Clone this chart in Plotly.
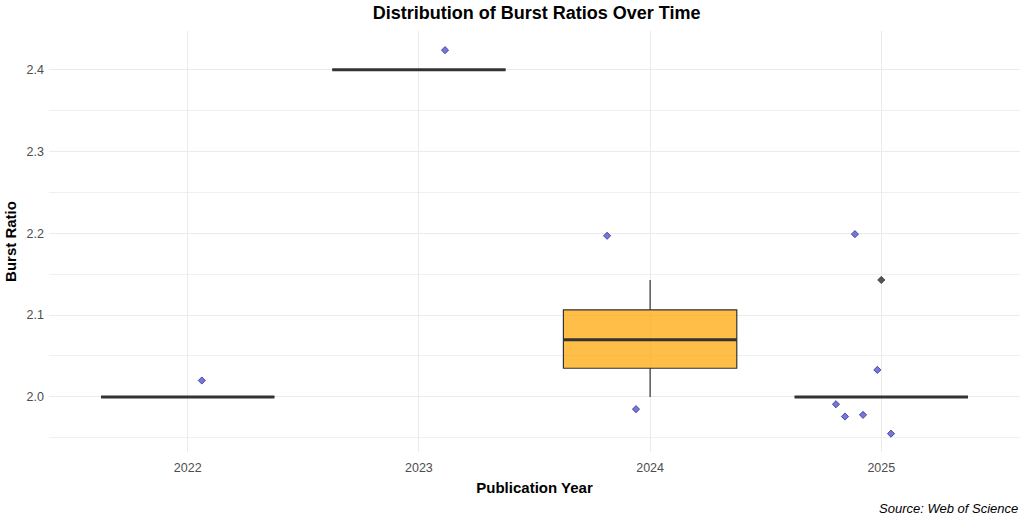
import plotly.graph_objects as go

years = ["2022", "2023", "2024", "2025"]
positions = [1, 2, 3, 4]

# box statistics per year
q1 = [2.0, 2.4, 2.035, 2.0]
median = [2.0, 2.4, 2.07, 2.0]
q3 = [2.0, 2.4, 2.1065, 2.0]
lower_fence = [2.0, 2.4, 2.0, 2.0]
upper_fence = [2.0, 2.4, 2.143, 2.0]

# boxplot outliers
outlier_x = [4.0]
outlier_y = [2.143]

# jittered observations
jitter_x = [1.061, 2.113, 2.814, 2.939, 3.886, 3.983, 3.804, 3.843, 3.921, 4.042]
jitter_y = [2.020, 2.424, 2.197, 1.985, 2.199, 2.033, 1.991, 1.976, 1.978, 1.955]

BOX_W = 0.75
FONT = "Liberation Sans, Arial, sans-serif"

fig = go.Figure()

# boxes
fig.add_trace(go.Box(
    x=positions, q1=q1, median=median, q3=q3,
    lowerfence=lower_fence, upperfence=upper_fence,
    width=BOX_W, whiskerwidth=0,
    fillcolor="rgba(255,165,0,0.72)",
    line=dict(color="#333333", width=1.2),
    boxpoints=False, showlegend=False, hoverinfo="skip",
))

# thick median segments
for p, m in zip(positions, median):
    fig.add_trace(go.Scatter(
        x=[p - BOX_W / 2, p + BOX_W / 2], y=[m, m], mode="lines",
        line=dict(color="#333333", width=3), showlegend=False, hoverinfo="skip",
    ))

# outliers
fig.add_trace(go.Scatter(
    x=outlier_x, y=outlier_y, mode="markers",
    marker=dict(symbol="diamond", size=5.5, color="#555555",
                line=dict(color="#333333", width=0.8)),
    showlegend=False,
))

# jitter points
fig.add_trace(go.Scatter(
    x=jitter_x, y=jitter_y, mode="markers",
    marker=dict(symbol="diamond", size=5.5, color="rgba(112,112,215,0.95)",
                line=dict(color="#2f2f90", width=0.8)),
    showlegend=False,
))

fig.update_layout(
    width=1026, height=524,
    margin=dict(l=49, r=6, t=31, b=72, autoexpand=False),
    paper_bgcolor="white", plot_bgcolor="white",
    font=dict(family=FONT, color="#4d4d4d", size=12),
    title=dict(text="<b>Distribution of Burst Ratios Over Time</b>",
               x=0.523, xanchor="center", y=0.975, yanchor="middle",
               font=dict(size=18, color="black", family=FONT)),
    xaxis=dict(
        range=[0.4, 4.6], tickvals=positions, ticktext=years,
        showgrid=True, gridcolor="#EBEBEB", gridwidth=1, zeroline=False,
        ticks="", ticklabelstandoff=6, automargin=False,
        title=dict(text="<b>Publication Year</b>", standoff=8,
                   font=dict(size=15, color="black", family=FONT)),
        tickfont=dict(size=12.5, color="#4d4d4d"),
    ),
    yaxis=dict(
        range=[1.9326, 2.4474], tickvals=[2.0, 2.1, 2.2, 2.3, 2.4],
        tickformat=".1f", showgrid=True, gridcolor="#EBEBEB", gridwidth=1,
        zeroline=False, ticks="", automargin=False, ticklabelstandoff=4,
        minor=dict(tickvals=[1.95, 2.05, 2.15, 2.25, 2.35, 2.45],
                   showgrid=True, gridcolor="#F0F0F0", gridwidth=1),
        title=dict(text="<b>Burst Ratio</b>", standoff=6,
                   font=dict(size=15, color="black", family=FONT)),
        tickfont=dict(size=12.5, color="#4d4d4d"),
    ),
    annotations=[dict(
        text="<i>Source: Web of Science</i>", xref="paper", yref="paper",
        x=1.0, y=-0.135, xanchor="right", yanchor="middle", showarrow=False,
        font=dict(size=13, color="black", family=FONT),
    )],
)

fig.write_html(
    "out.html",
    config={"displayModeBar": False},
    post_script="document.body.style.margin='0';document.body.style.padding='0';",
)
